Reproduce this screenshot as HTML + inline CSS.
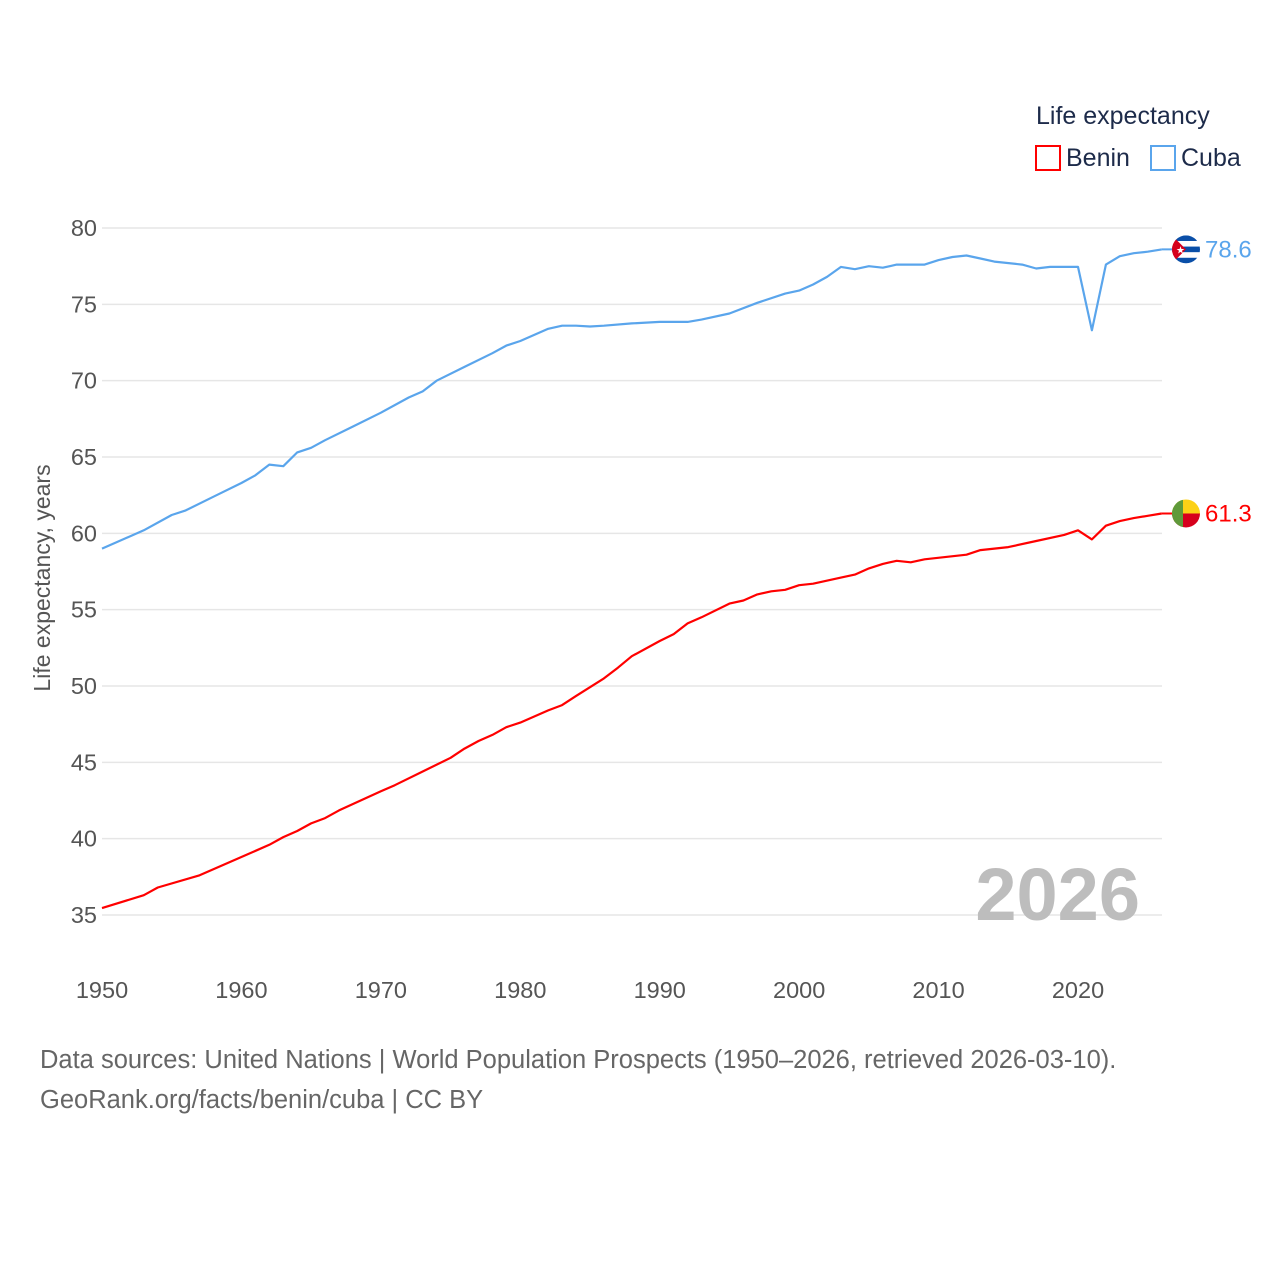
<!DOCTYPE html>
<html><head><meta charset="utf-8"><style>
body{margin:0;background:#fff;}
svg text{font-family:"Liberation Sans",sans-serif;}
</style></head><body>
<svg id="chart" width="1280" height="1280" viewBox="0 0 1280 1280">
<text x="1036" y="124" font-size="25" fill="#1d2b4a">Life expectancy</text>
<g><rect x="1036" y="146" width="24" height="24" fill="none" stroke="#f00" stroke-width="2"/><text x="1066" y="166" font-size="25" fill="#1d2b4a">Benin</text></g>
<g><rect x="1151" y="146" width="24" height="24" fill="none" stroke="#5aa5ec" stroke-width="2"/><text x="1181" y="166" font-size="25" fill="#1d2b4a">Cuba</text></g>
<g id="grid"></g><g id="yt"></g><g id="xt"></g>
<text transform="translate(50,578) rotate(-90)" text-anchor="middle" font-size="23" fill="#555">Life expectancy, years</text>
<text x="1140" y="920" text-anchor="end" font-size="74" font-weight="bold" fill="#bdbdbd">2026</text>
<g id="series"></g>
<text x="40" y="1068" font-size="25.5" fill="#666">Data sources: United Nations | World Population Prospects (1950–2026, retrieved 2026-03-10).</text>
<text x="40" y="1108" font-size="25.5" fill="#666">GeoRank.org/facts/benin/cuba | CC BY</text>
</svg>
<script>
const yTicks=[35,40,45,50,55,60,65,70,75,80];
const xTicks=[1950,1960,1970,1980,1990,2000,2010,2020];
const cubaYears=[1950,1953,1955,1956,1958,1960,1961,1962,1963,1964,1965,1966,1968,1970,1972,1973,1974,1976,1978,1979,1980,1982,1983,1984,1985,1986,1988,1990,1992,1993,1995,1997,1999,2000,2001,2002,2003,2004,2005,2006,2007,2009,2010,2011,2012,2013,2014,2016,2017,2018,2020,2021,2022,2023,2024,2025,2026];
const cubaValues=[59.0,60.2,61.2,61.5,62.4,63.3,63.8,64.5,64.4,65.3,65.6,66.1,67.0,67.9,68.9,69.3,70.0,70.9,71.8,72.3,72.6,73.4,73.6,73.6,73.55,73.6,73.75,73.85,73.85,74.0,74.4,75.1,75.7,75.9,76.3,76.8,77.45,77.3,77.5,77.4,77.6,77.6,77.9,78.1,78.2,78.0,77.8,77.6,77.35,77.45,77.45,73.3,77.6,78.15,78.35,78.45,78.6];
const beninYears=[1950,1953,1954,1957,1960,1962,1963,1964,1965,1966,1967,1970,1971,1973,1975,1976,1977,1978,1979,1980,1982,1983,1984,1986,1987,1988,1990,1991,1992,1993,1995,1996,1997,1998,1999,2000,2001,2003,2004,2005,2006,2007,2008,2009,2012,2013,2015,2017,2019,2020,2021,2022,2023,2024,2025,2026];
const beninValues=[35.45,36.3,36.8,37.6,38.8,39.6,40.1,40.5,41.0,41.35,41.85,43.1,43.5,44.4,45.3,45.9,46.4,46.8,47.3,47.6,48.4,48.75,49.35,50.5,51.2,51.95,52.95,53.4,54.1,54.5,55.4,55.6,56.0,56.2,56.3,56.6,56.7,57.1,57.3,57.7,58.0,58.2,58.1,58.3,58.6,58.9,59.1,59.5,59.9,60.2,59.6,60.5,60.8,61.0,61.15,61.3];
const NS='http://www.w3.org/2000/svg';
const xS=y=>102+(y-1950)*(1078-102)/70;
const yS=v=>228+(80-v)*(915-228)/45;
function mk(t,a,p){const e=document.createElementNS(NS,t);for(const k in a)e.setAttribute(k,a[k]);p.appendChild(e);return e;}
const grid=document.getElementById('grid'),yt=document.getElementById('yt'),xt=document.getElementById('xt'),ser=document.getElementById('series');
yTicks.forEach(v=>{
 const l=mk('line',{x1:102,x2:1162,y1:yS(v),y2:yS(v),stroke:'#e6e6e6','stroke-width':1.5},grid);
 
 
 const t=mk('text',{x:97,y:yS(v)+8,'text-anchor':'end','font-size':23.5,fill:'#555'},yt);
 t.textContent=v;
 
 
});
xTicks.forEach(y=>{
 const t=mk('text',{x:xS(y),y:998,'text-anchor':'middle','font-size':23.5,fill:'#555'},xt);
 t.textContent=y;
 
 
});
function line(years,vals,color,name){
 const d=years.map((y,i)=>(i?'L':'M')+xS(y).toFixed(1)+','+yS(vals[i]).toFixed(1)).join('');
 const p=mk('path',{d:d,fill:'none',stroke:color,'stroke-width':2.2,'stroke-linejoin':'round'},ser);
 
 
 const ly=yS(vals[vals.length-1]),lx=xS(years[years.length-1]);
 mk('line',{x1:lx,x2:lx+12,y1:ly,y2:ly,stroke:color,'stroke-width':2},ser);
 const t=mk('text',{x:1205,y:ly+8,'font-size':24,fill:color},ser);
 t.textContent=vals[vals.length-1].toFixed(1);
 
 
 return ly;
}
const cy=line(cubaYears,cubaValues,'#5aa5ec','cuba');
const by=line(beninYears,beninValues,'#f00','benin');
const cf=mk('g',{},ser);


const cx=1186;
mk('clipPath',{id:'cc'},cf).appendChild(document.createElementNS(NS,'circle')).setAttribute('r',14);
document.querySelector('#cc circle').setAttribute('cx',cx);document.querySelector('#cc circle').setAttribute('cy',cy);
const cg=mk('g',{'clip-path':'url(#cc)'},cf);
mk('rect',{x:cx-14,y:cy-14,width:28,height:28,fill:'#fff'},cg);
[0,2,4].forEach(i=>mk('rect',{x:cx-14,y:cy-14+i*5.6,width:28,height:5.6,fill:'#0a4fa8'},cg));
mk('polygon',{points:`${cx-14},${cy-14} ${cx},${cy} ${cx-14},${cy+14}`,fill:'#d6001c'},cg);
mk('text',{x:cx-10,y:cy+4,'font-size':10,fill:'#fff'},cg).textContent='★';
const bf=mk('g',{},ser);


mk('clipPath',{id:'bc'},bf).appendChild(document.createElementNS(NS,'circle')).setAttribute('r',14);
document.querySelector('#bc circle').setAttribute('cx',cx);document.querySelector('#bc circle').setAttribute('cy',by);
const bg=mk('g',{'clip-path':'url(#bc)'},bf);
mk('rect',{x:cx-14,y:by-14,width:28,height:14,fill:'#fcd116'},bg);
mk('rect',{x:cx-14,y:by,width:28,height:14,fill:'#d6001c'},bg);
mk('rect',{x:cx-14,y:by-14,width:11,height:28,fill:'#5f9a3a'},bg);
</script>
</body></html>
